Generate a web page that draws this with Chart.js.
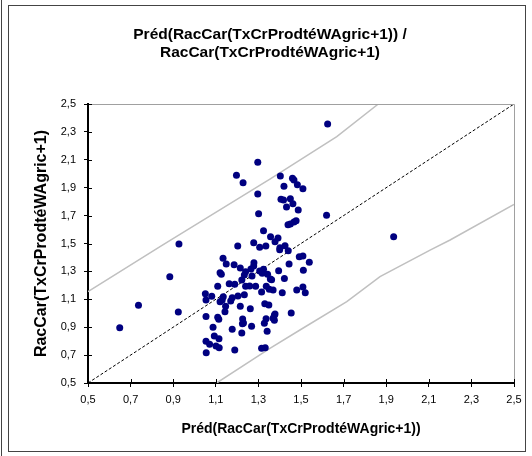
<!DOCTYPE html>
<html>
<head>
<meta charset="utf-8">
<script src="https://cdn.jsdelivr.net/npm/chart.js@4/dist/chart.umd.min.js"></script>
<style>
  html, body { margin: 0; padding: 0; background: #fff; }
  #wrap { position: relative; width: 532px; height: 456px; }
</style>
</head>
<body>
<div id="wrap"><canvas id="scatterChart" width="532" height="456"></canvas></div>
<script>
const predX = [
  1.297, 1.197, 1.228, 1.297, 1.403, 1.420, 1.406, 1.418, 1.450, 1.432,
  1.301, 1.439, 1.450, 1.467, 1.477, 1.324, 1.357, 1.392, 1.378, 0.927,
  1.203, 1.278, 1.306, 1.335, 1.401, 1.425, 1.400, 1.440, 1.625, 1.460,
  1.467, 1.483, 1.509, 1.462, 1.487, 1.620, 1.935,
  1.444, 1.134, 1.149, 1.186, 1.120, 1.126, 1.215, 1.240, 1.265, 1.278,
  1.279, 1.234, 1.270, 1.306, 1.324, 1.318, 1.343, 1.356, 1.395, 1.422,
  0.884, 1.109, 1.163, 1.189, 1.222, 1.240, 1.259, 1.287, 1.337, 1.351,
  1.369, 1.315, 1.412, 1.051, 1.054, 1.081, 1.135, 1.120, 1.130, 1.170,
  1.177, 1.204, 1.234, 1.146, 1.215, 1.262, 1.330, 1.349, 1.143, 0.924,
  0.737, 1.054, 1.109, 1.114, 1.226, 1.230, 1.225, 1.268, 1.328, 1.336,
  1.375, 1.375, 1.454, 1.087, 1.177, 1.222, 1.341, 0.649, 1.093, 1.115,
  1.054, 1.071, 1.101, 1.116, 1.055, 1.189, 1.315, 1.332,
  1.492, 1.509, 1.539, 1.511, 1.362, 1.480, 1.509, 1.520, 1.378, 1.369
];
const obsY = [
  2.082, 1.990, 1.936, 1.855, 1.984, 1.910, 1.817, 1.812, 1.820, 1.762,
  1.714, 1.635, 1.640, 1.654, 1.663, 1.592, 1.549, 1.539, 1.513, 1.496,
  1.482, 1.506, 1.473, 1.482, 1.470, 1.484, 1.455, 1.448, 2.357, 1.967,
  1.955, 1.921, 1.893, 1.785, 1.740, 1.702, 1.549,
  1.353, 1.394, 1.353, 1.348, 1.290, 1.279, 1.324, 1.298, 1.317, 1.339,
  1.362, 1.274, 1.267, 1.303, 1.315, 1.286, 1.279, 1.246, 1.305, 1.250,
  1.262, 1.193, 1.212, 1.208, 1.238, 1.193, 1.195, 1.193, 1.193, 1.172,
  1.167, 1.152, 1.147, 1.140, 1.095, 1.121, 1.119, 1.083, 1.095, 1.088,
  1.111, 1.124, 1.133, 1.050, 1.050, 1.033, 1.068, 1.059, 1.011, 1.009,
  1.057, 0.977, 0.971, 0.957, 0.959, 0.930, 0.925, 0.906, 0.928, 0.961,
  0.985, 0.949, 1.002, 0.899, 0.885, 0.858, 0.871, 0.896, 0.837, 0.818,
  0.799, 0.777, 0.765, 0.753, 0.717, 0.737, 0.749, 0.753,
  1.405, 1.410, 1.365, 1.308, 1.240, 1.167, 1.188, 1.147, 0.995, 0.964
];

// prediction band limits (grey curves)
const upperBandX = [0.5, 0.84, 1.354, 1.668, 1.863];
const upperBandY = [1.155, 1.48, 1.962, 2.266, 2.5];
const lowerBandX = [1.104, 1.354, 1.495, 1.715, 1.871, 2.106, 2.2, 2.5];
const lowerBandY = [0.5, 0.749, 0.88, 1.083, 1.262, 1.453, 1.525, 1.78];

// y = x reference
const diagX = [0.5, 2.5];
const diagY = [0.5, 2.5];

const tickValues = [0.5, 0.7, 0.9, 1.1, 1.3, 1.5, 1.7, 1.9, 2.1, 2.3, 2.5];
const tickLabels = ['0,5', '0,7', '0,9', '1,1', '1,3', '1,5', '1,7', '1,9', '2,1', '2,3', '2,5'];

const titleLines = ['Préd(RacCar(TxCrProdtéWAgric+1)) /', 'RacCar(TxCrProdtéWAgric+1)'];
const xTitle = 'Préd(RacCar(TxCrProdtéWAgric+1))';
const yTitle = 'RacCar(TxCrProdtéWAgric+1)';

const FONT = 'Liberation Sans, Arial, sans-serif';
const toXY = (xs, ys) => xs.map((x, i) => ({ x: x, y: ys[i] }));

// outer frame, grey plot border and crossing tick marks
const excelLook = {
  id: 'excelLook',
  beforeDraw(chart) {
    const ctx = chart.ctx;
    ctx.save();
    ctx.fillStyle = '#fff';
    ctx.fillRect(0, 0, chart.width, chart.height);
    ctx.strokeStyle = '#444';
    ctx.lineWidth = 1;
    ctx.strokeRect(8.5, 5.5, 517, 446);
    ctx.beginPath();
    ctx.moveTo(1.5, 0);
    ctx.lineTo(1.5, chart.height);
    ctx.stroke();
    ctx.restore();
  },
  afterDraw(chart) {
    const ctx = chart.ctx;
    const a = chart.chartArea;
    const xs = chart.scales.x, ys = chart.scales.y;
    ctx.save();
    ctx.strokeStyle = '#a0a0a0';
    ctx.lineWidth = 1;
    ctx.beginPath();
    ctx.moveTo(a.left, a.top + 0.5);
    ctx.lineTo(a.right + 0.5, a.top + 0.5);
    ctx.lineTo(a.right + 0.5, a.bottom);
    ctx.stroke();
    ctx.strokeStyle = '#000';
    ctx.beginPath();
    tickValues.forEach(v => {
      const px = Math.round(xs.getPixelForValue(v)) + 0.5;
      ctx.moveTo(px, a.bottom);
      ctx.lineTo(px, a.bottom - 4);
      const py = Math.round(ys.getPixelForValue(v)) + 0.5;
      ctx.moveTo(a.left, py);
      ctx.lineTo(a.left + 4, py);
    });
    ctx.stroke();
    ctx.restore();
  }
};

const fixedTicks = scale => {
  scale.ticks = tickValues.map(v => ({ value: v }));
};

const axisBase = {
  type: 'linear',
  min: 0.5,
  max: 2.5,
  afterBuildTicks: fixedTicks,
  grid: {
    drawOnChartArea: false,
    drawTicks: true,
    tickLength: 4,
    tickColor: '#000',
    tickWidth: 1
  },
  border: { color: '#000', width: 2 },
  ticks: {
    color: '#000',
    font: { family: FONT, size: 11 },
    autoSkip: false,
    maxRotation: 0,
    callback: (v, i) => tickLabels[i]
  }
};

const ctx = document.getElementById('scatterChart').getContext('2d');
new Chart(ctx, {
  type: 'scatter',
  data: {
    datasets: [
      {
        label: 'Obs',
        data: toXY(predX, obsY),
        backgroundColor: '#000080',
        borderColor: '#000080',
        pointRadius: 3.5,
        pointHoverRadius: 3.5,
        borderWidth: 0
      },
      {
        label: 'y=x',
        data: toXY(diagX, diagY),
        showLine: true,
        borderColor: '#000',
        borderWidth: 1,
        borderDash: [3, 2],
        pointRadius: 0
      },
      {
        label: 'upper',
        data: toXY(upperBandX, upperBandY),
        showLine: true,
        borderColor: '#c0c0c0',
        borderWidth: 1.5,
        pointRadius: 0
      },
      {
        label: 'lower',
        data: toXY(lowerBandX, lowerBandY),
        showLine: true,
        borderColor: '#c0c0c0',
        borderWidth: 1.5,
        pointRadius: 0
      }
    ]
  },
  options: {
    responsive: false,
    animation: false,
    clip: true,
    layout: { padding: { left: 26, right: 18, top: 0, bottom: 18 } },
    plugins: {
      legend: { display: false },
      tooltip: { enabled: false },
      title: {
        display: true,
        text: titleLines,
        color: '#000',
        font: { family: FONT, size: 15.5, weight: 'bold', lineHeight: '18px' },
        padding: { top: 26, bottom: 42 }
      }
    },
    scales: {
      x: Object.assign({}, axisBase, {
        position: 'bottom',
        ticks: Object.assign({}, axisBase.ticks, { padding: 6 }),
        title: {
          display: true,
          text: xTitle,
          color: '#000',
          font: { family: FONT, size: 14, weight: 'bold' },
          padding: { top: 0, bottom: 0 }
        },
        afterFit: s => { s.height = 55; }
      }),
      y: Object.assign({}, axisBase, {
        position: 'left',
        ticks: Object.assign({}, axisBase.ticks, { padding: 8 }),
        title: {
          display: true,
          text: yTitle,
          color: '#000',
          font: { family: FONT, size: 16, weight: 'bold' },
          padding: { top: 6, bottom: 0 }
        },
        afterFit: s => { s.width = 62; }
      })
    }
  },
  plugins: [excelLook]
});
</script>
</body>
</html>
